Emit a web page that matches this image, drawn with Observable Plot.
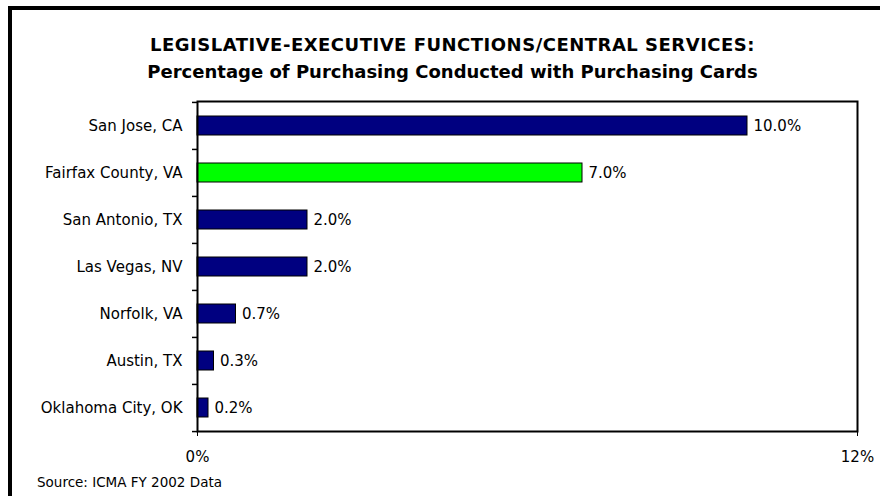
<!DOCTYPE html>
<html>
<head>
<meta charset="utf-8">
<script src="https://cdn.jsdelivr.net/npm/d3@7"></script>
<script src="https://cdn.jsdelivr.net/npm/@observablehq/plot@0.6"></script>
<style>
  html, body { margin: 0; padding: 0; background: #fff; }
  #wrap { position: relative; width: 883px; height: 496px; overflow: hidden; background: #fff; font-family: "DejaVu Sans", sans-serif; }
  #borderTop { position: absolute; left: 8px; top: 6px; width: 872px; height: 4px; background: #000; }
  #borderLeft { position: absolute; left: 8px; top: 6px; width: 4px; height: 490px; background: #000; }
  #title { position: absolute; left: 0; width: 905px; top: 31px; text-align: center; font-weight: bold; font-size: 18px; line-height: 27px; color: #000; }
  #title .l1 { letter-spacing: 0.5px; }
  #source { position: absolute; left: 37px; top: 474px; font-size: 13.5px; color: #000; }
  #chart { position: absolute; left: 0; top: 0; }
</style>
</head>
<body>
<div id="wrap">
  <div id="chart"></div>
  <div id="borderTop"></div>
  <div id="borderLeft"></div>
  <div id="title"><span class="l1">LEGISLATIVE-EXECUTIVE FUNCTIONS/CENTRAL SERVICES:</span><br>Percentage of Purchasing Conducted with Purchasing Cards</div>
  <div id="source">Source: ICMA FY 2002 Data</div>
</div>
<script>
const cities = ["San Jose, CA", "Fairfax County, VA", "San Antonio, TX", "Las Vegas, NV", "Norfolk, VA", "Austin, TX", "Oklahoma City, OK"];
const values = [10.0, 7.0, 2.0, 2.0, 0.7, 0.3, 0.2];
const highlight = "Fairfax County, VA";
const xTicks = [0, 12];

const data = cities.map((c, i) => ({city: c, value: values[i]}));

const marginTop = 101, marginBottom = 65;
const H = 496;
const step = (H - marginTop - marginBottom) / cities.length;

const chart = Plot.plot({
  width: 883,
  height: H,
  marginLeft: 197,
  marginRight: 26,
  marginTop,
  marginBottom,
  style: {fontFamily: "'DejaVu Sans', sans-serif", fontSize: "15px", color: "#000", background: "transparent"},
  x: {domain: [0, 12], ticks: xTicks, tickFormat: d => d + "%", tickSize: 5, tickPadding: 15, label: null},
  y: {domain: cities, paddingInner: 0.6, paddingOuter: 0.3, align: 0.5, label: null, tickSize: 0, tickPadding: 15},
  marks: [
    Plot.barX(data, {x: "value", y: "city", fill: d => d.city === highlight ? "#00ff00" : "#000080", stroke: "#000", strokeWidth: 1}),
    Plot.text(data, {x: "value", y: "city", text: d => d.value.toFixed(1) + "%", textAnchor: "start", dx: 6, fontSize: 15, fill: "#000"}),
    Plot.ruleY(cities, {y: d => d, x1: 0, x2: 0, insetLeft: -5, dy: -step / 2, stroke: "#000", strokeWidth: 1.5}),
    Plot.ruleY(cities.slice(-1), {y: d => d, x1: 0, x2: 0, insetLeft: -5, dy: step / 2, stroke: "#000", strokeWidth: 1.5}),
    Plot.frame({stroke: "#000", strokeWidth: 2})
  ]
});
document.getElementById("chart").appendChild(chart);
</script>
</body>
</html>
